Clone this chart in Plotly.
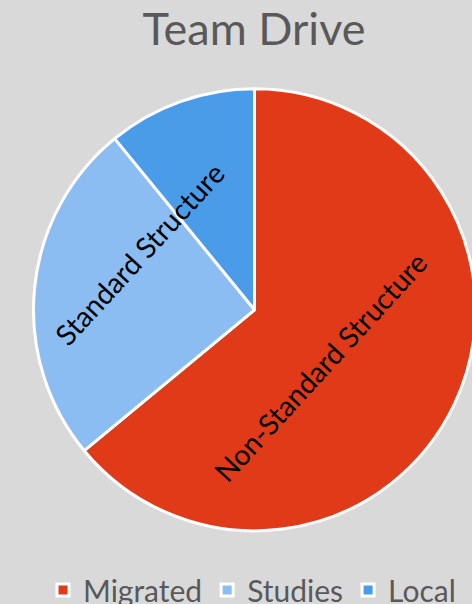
import plotly.graph_objects as go

# Data
categories = ["Migrated", "Studies", "Local"]
values = [64, 25.1, 10.9]
slice_labels = ["Non-Standard Structure", "Standard Structure", ""]
colors = ["#E03A18", "#8BBCF2", "#4A9CE8"]

W, H = 482, 604
cx, cy, R = 254.5, 309.8, 221.0   # pie centre / radius in px (from top-left)

fig = go.Figure(go.Pie(
    labels=categories,
    values=values,
    sort=False,
    direction="clockwise",
    rotation=0,
    marker=dict(colors=colors, line=dict(color="white", width=3)),
    textinfo="none",
    hoverinfo="label+percent",
    domain=dict(x=[(cx - R) / W, (cx + R) / W], y=[(H - cy - R) / H, (H - cy + R) / H]),
))

# rotated slice labels (positions in px)
label_pos = [(320.0, 366.5), (139.0, 253.5)]
for txt, (px, py) in zip(slice_labels[:2], label_pos):
    fig.add_annotation(
        x=px / W, y=1 - py / H, xref="paper", yref="paper",
        text=txt, showarrow=False, textangle=-47.5,
        font=dict(family="Lato", size=28.5, color="black"),
        xanchor="center", yanchor="middle",
    )

fig.update_layout(
    width=W, height=H,
    margin=dict(l=0, r=0, t=0, b=0, autoexpand=False),
    paper_bgcolor="#D9D9D9",
    plot_bgcolor="#D9D9D9",
    title=dict(text="Team Drive", x=254 / W, xanchor="center",
               y=1 - 13 / H, yanchor="top",
               font=dict(family="Lato", size=45, color="#595959")),
    legend=dict(orientation="h", x=252 / W, xanchor="center",
                y=1 - 590 / H, yanchor="middle",
                font=dict(family="Lato", size=30, color="#595959"),
                itemwidth=30, traceorder="normal"),
)

fig.write_html("out.html", post_script="document.body.style.overflow='hidden';document.body.style.margin='0';")
